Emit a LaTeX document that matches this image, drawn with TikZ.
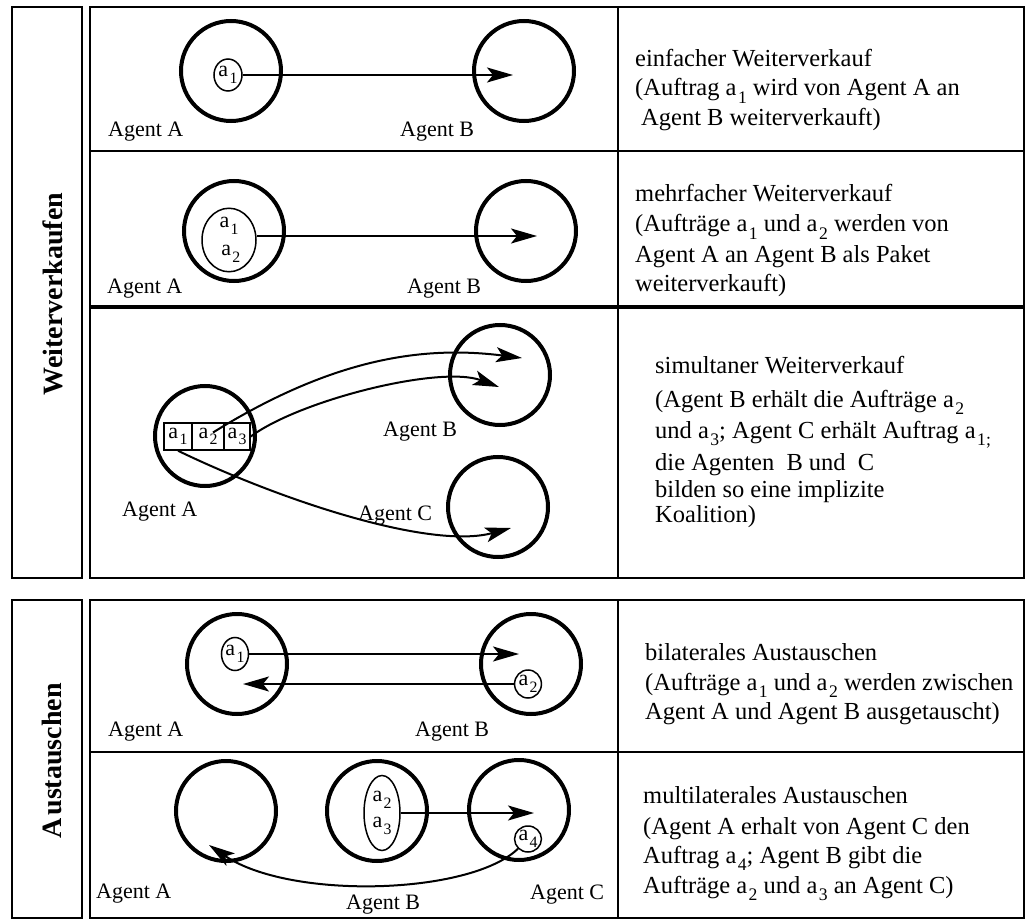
\documentclass[tikz,border=0pt]{standalone}
\usepackage{fontspec}
\setmainfont{Liberation Serif}
\usetikzlibrary{arrows.meta,shapes.geometric,calc}
\newcommand\sbs[1]{\kern0.06em\raisebox{-0.3em}{\scalebox{0.72}{#1}}}
\newcommand\myDescFont{\fontsize{24.5pt}{29pt}\selectfont}
\newcommand\myLblFont{\fontsize{22pt}{26pt}\selectfont}
\newcommand\myCatFont{\fontsize{28pt}{32pt}\selectfont\bfseries}
\tikzset{
  frame/.style={line width=2pt},
  agent/.style={circle, draw, line width=4pt, minimum size=100pt, inner sep=0pt},
  ord/.style={ellipse, draw, line width=1.5pt, inner sep=0pt, font=\myLblFont},
  cell/.style={rectangle, draw, line width=1.5pt, inner sep=0pt, minimum height=27pt, font=\myLblFont},
  lbl/.style={font=\myLblFont, inner sep=0pt, anchor=base west},
  desc/.style={font=\myDescFont, inner sep=0pt, anchor=base west},
  cat/.style={font=\myCatFont, inner sep=0pt, anchor=base, rotate=90},
  arr/.style={line width=2pt, -{Stealth[length=26pt,width=15pt,inset=6pt]}},
}
\begin{document}
\begin{tikzpicture}[x=1pt,y=-1pt]
\useasboundingbox (0,0) rectangle (1034,920);
% ---------- frames
\draw[frame] (12,7) rectangle (82,578);
\draw[frame] (90,7) rectangle (1024,578);
\draw[frame] (618,7) -- (618,578);
\draw[frame] (90,151) -- (1024,151);
\draw[line width=4.5pt] (90,307) -- (1024,307);
\draw[frame] (12,600) rectangle (82,918);
\draw[frame] (90,600) rectangle (1024,918);
\draw[frame] (618,600) -- (618,918);
\draw[frame] (90,752) -- (1024,752);
% ---------- category labels
\node[cat] (catW) at (62,294) {Weiterverkaufen};
\node[cat] (catA) at (61,761) {A\kern3pt ustauschen};

% ---------- row 1
\node[agent] (r1A) at (231,71) {};
\node[agent] (r1B) at (524,71) {};
\node[ord, minimum width=28pt, minimum height=32pt] (e1) at (228,75) {a\sbs{1}};
\coordinate (t1) at (513,75);
\draw[arr] (e1.east) -- (e1.east -| t1);
\node[lbl] (l1A) at (108,137) {Agent A};
\node[lbl] (l1B) at (400,137) {Agent B};
\node[desc] (d1a) at (635,67) {einfacher Weiterverkauf};
\node[desc] (d1b) at (635,96) {(Auftrag a\sbs{1} wird von Agent A an};
\node[desc] (d1c) at (641,126) {Agent B weiterverkauft)};

% ---------- row 2
\node[agent] (r2A) at (234,231) {};
\node[agent] (r2B) at (526,231) {};
\node[ord, minimum width=54pt, minimum height=61pt, align=center] (e2) at (229,240) {a\sbs{1}\\[2pt]\,a\sbs{2}};
\coordinate (t2) at (537,236);
\draw[arr] (e2.east |- t2) -- (t2);
\node[lbl] (l2A) at (107,294) {Agent A};
\node[lbl] (l2B) at (407,294) {Agent B};
\node[desc] (d2a) at (635,202) {mehrfacher Weiterverkauf};
\node[desc] (d2b) at (635,232) {(Aufträge a\sbs{1} und a\sbs{2} werden von};
\node[desc] (d2c) at (635,262) {Agent A an Agent B als Paket};
\node[desc] (d2d) at (635,291) {weiterverkauft)};

% ---------- row 3
\node[agent] (r3A) at (205,436) {};
\node[agent] (r3B) at (500,375) {};
\node[agent] (r3C) at (498,507) {};
\node[cell, minimum width=28pt] (c1) at (178,436.5) {a\sbs{1}};
\node[cell, minimum width=32pt] (c2) at (208,436.5) {a\sbs{2}};
\node[cell, minimum width=26pt] (c3) at (237,436.5) {a\sbs{3}};
\coordinate (t3a) at (522,358);
\coordinate (t3b) at (499,387);
\coordinate (t3c) at (511,528);
\draw[arr] ($(c2.center)+(5,-4)$) .. controls (330,360) and (420,345) .. (t3a);
\draw[arr] (c3.east) .. controls (300,400) and (440,365) .. (t3b);
\draw[arr] (c1.south) .. controls (280,500) and (430,550) .. (t3c);
\node[lbl] (l3B) at (383,436) {Agent B};
\node[lbl] (l3A) at (122,516) {Agent A};
\node[lbl] (l3C) at (358,520) {Agent C};
\node[desc] (d3a) at (655,373) {simultaner Weiterverkauf};
\node[desc] (d3b) at (655,407) {(Agent B erhält die Aufträge a\sbs{2}};
\node[desc] (d3c) at (655,438) {und a\sbs{3}; Agent C erhält Auftrag a\sbs{1;}};
\node[desc] (d3d) at (655,470) {die Agenten \ B und \ C};
\node[desc] (d3e) at (655,497) {bilden so eine implizite};
\node[desc] (d3f) at (655,522) {Koalition)};

% ---------- row 4
\node[agent] (r4A) at (237,664) {};
\node[agent] (r4B) at (531,664) {};
\node[ord, minimum width=27pt, minimum height=33pt] (e4a) at (235,654) {a\sbs{1}};
\node[ord, minimum width=25pt, minimum height=28pt] (e4b) at (528,684) {a\sbs{2}};
\coordinate (t4r) at (519,654);
\coordinate (t4l) at (243,684);
\draw[arr] (e4a.east) -- (e4a.east -| t4r);
\draw[arr] (e4b.west) -- (e4b.west -| t4l);
\node[lbl] (l4A) at (108,736) {Agent A};
\node[lbl] (l4B) at (415,736) {Agent B};
\node[desc] (d4a) at (645,660) {bilaterales Austauschen};
\node[desc] (d4b) at (645,690) {(Aufträge a\sbs{1} und a\sbs{2} werden zwischen};
\node[desc] (d4c) at (645,719) {Agent A und Agent B ausgetauscht)};

% ---------- row 5
\node[agent] (r5A) at (226,811) {};
\node[agent] (r5B) at (377,811) {};
\node[agent] (r5C) at (519,810) {};
\node[ord, minimum width=36pt, minimum height=75pt, align=center] (e5) at (382,813) {a\sbs{2}\\[0pt]a\sbs{3}};
\node[ord, minimum width=24pt, minimum height=26pt] (e5c) at (528,839) {a\sbs{4}};
\coordinate (t5r) at (534,812);
\coordinate (t5l) at (209,845);
\draw[arr] (e5.east) -- (e5.east -| t5r);
\draw[arr] (e5c.south west) .. controls (470,895) and (290,900) .. (t5l);
\node[lbl] (l5A) at (96,898) {Agent A};
\node[lbl] (l5B) at (346,909) {Agent B};
\node[lbl] (l5C) at (530,899) {Agent C};
\node[desc] (d5a) at (643,803) {multilaterales Austauschen};
\node[desc] (d5b) at (643,834) {(Agent A erhalt von Agent C den};
\node[desc] (d5c) at (643,863) {Auftrag a\sbs{4}; Agent B gibt die};
\node[desc] (d5d) at (643,893) {Aufträge a\sbs{2} und a\sbs{3} an Agent C)};
\end{tikzpicture}
\end{document}
